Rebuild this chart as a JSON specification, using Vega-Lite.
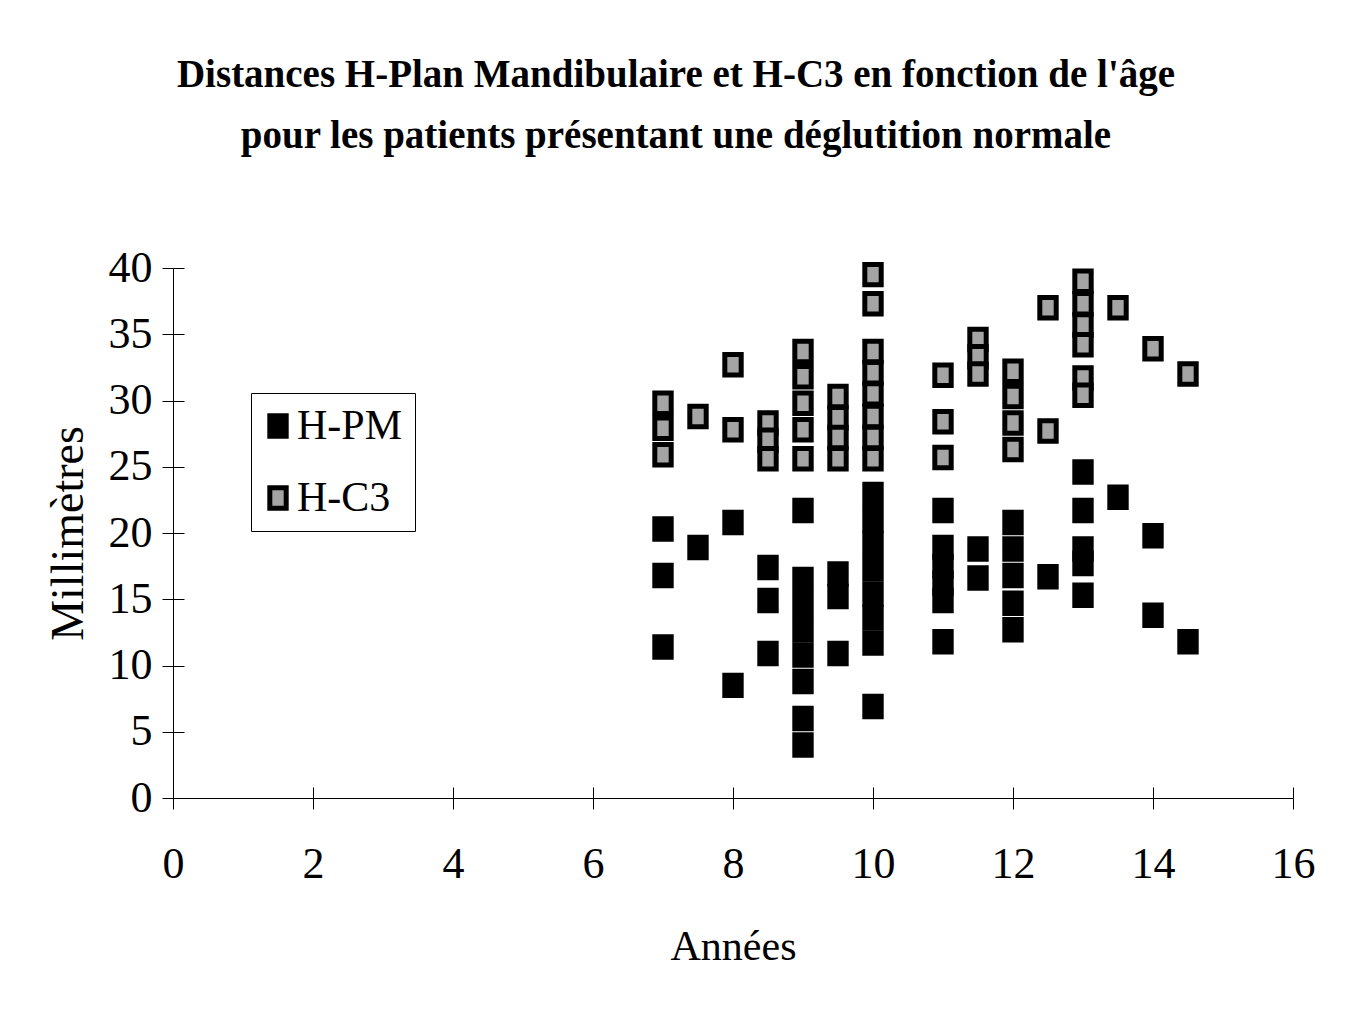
{
  "$schema": "https://vega.github.io/schema/vega-lite/v6.json",
  "autosize": "none",
  "width": 1120,
  "height": 530,
  "padding": {"left": 173, "top": 268, "right": 55, "bottom": 230},
  "background": "white",
  "title": {
    "text": ["Distances H-Plan Mandibulaire et H-C3 en fonction de l'âge", "pour les patients présentant une déglutition normale"],
    "font": "Liberation Serif",
    "fontSize": 39,
    "fontWeight": "bold",
    "color": "black",
    "lineHeight": 61,
    "anchor": "middle",
    "dx": -57,
    "offset": 90
  },
  "config": {
    "view": {"stroke": null},
    "axis": {"labelFont": "Liberation Serif", "titleFont": "Liberation Serif", "labelColor": "black", "titleColor": "black", "domainColor": "black", "tickColor": "black", "grid": false}
  },
  "data": {
    "values": [
      {"age": 7, "mm": 20.3, "serie": "H-PM"},
      {"age": 7, "mm": 16.8, "serie": "H-PM"},
      {"age": 7, "mm": 11.4, "serie": "H-PM"},
      {"age": 7.5, "mm": 18.9, "serie": "H-PM"},
      {"age": 8, "mm": 20.8, "serie": "H-PM"},
      {"age": 8, "mm": 8.5, "serie": "H-PM"},
      {"age": 8.5, "mm": 17.4, "serie": "H-PM"},
      {"age": 8.5, "mm": 14.9, "serie": "H-PM"},
      {"age": 8.5, "mm": 10.9, "serie": "H-PM"},
      {"age": 9, "mm": 21.7, "serie": "H-PM"},
      {"age": 9, "mm": 16.5, "serie": "H-PM"},
      {"age": 9, "mm": 14.6, "serie": "H-PM"},
      {"age": 9, "mm": 12.7, "serie": "H-PM"},
      {"age": 9, "mm": 10.8, "serie": "H-PM"},
      {"age": 9, "mm": 8.8, "serie": "H-PM"},
      {"age": 9, "mm": 6.0, "serie": "H-PM"},
      {"age": 9, "mm": 4.0, "serie": "H-PM"},
      {"age": 9.5, "mm": 16.9, "serie": "H-PM"},
      {"age": 9.5, "mm": 15.2, "serie": "H-PM"},
      {"age": 9.5, "mm": 10.9, "serie": "H-PM"},
      {"age": 10, "mm": 22.9, "serie": "H-PM"},
      {"age": 10, "mm": 21.0, "serie": "H-PM"},
      {"age": 10, "mm": 19.2, "serie": "H-PM"},
      {"age": 10, "mm": 17.3, "serie": "H-PM"},
      {"age": 10, "mm": 15.4, "serie": "H-PM"},
      {"age": 10, "mm": 13.6, "serie": "H-PM"},
      {"age": 10, "mm": 11.7, "serie": "H-PM"},
      {"age": 10, "mm": 6.9, "serie": "H-PM"},
      {"age": 11, "mm": 21.7, "serie": "H-PM"},
      {"age": 11, "mm": 18.9, "serie": "H-PM"},
      {"age": 11, "mm": 17.5, "serie": "H-PM"},
      {"age": 11, "mm": 16.2, "serie": "H-PM"},
      {"age": 11, "mm": 14.9, "serie": "H-PM"},
      {"age": 11, "mm": 11.8, "serie": "H-PM"},
      {"age": 11.5, "mm": 18.8, "serie": "H-PM"},
      {"age": 11.5, "mm": 16.6, "serie": "H-PM"},
      {"age": 12, "mm": 20.8, "serie": "H-PM"},
      {"age": 12, "mm": 18.8, "serie": "H-PM"},
      {"age": 12, "mm": 16.8, "serie": "H-PM"},
      {"age": 12, "mm": 14.7, "serie": "H-PM"},
      {"age": 12, "mm": 12.7, "serie": "H-PM"},
      {"age": 12.5, "mm": 16.7, "serie": "H-PM"},
      {"age": 13, "mm": 24.6, "serie": "H-PM"},
      {"age": 13, "mm": 21.7, "serie": "H-PM"},
      {"age": 13, "mm": 18.8, "serie": "H-PM"},
      {"age": 13, "mm": 17.7, "serie": "H-PM"},
      {"age": 13, "mm": 15.3, "serie": "H-PM"},
      {"age": 13.5, "mm": 22.7, "serie": "H-PM"},
      {"age": 14, "mm": 19.8, "serie": "H-PM"},
      {"age": 14, "mm": 13.8, "serie": "H-PM"},
      {"age": 14.5, "mm": 11.8, "serie": "H-PM"},
      {"age": 7, "mm": 29.8, "serie": "H-C3"},
      {"age": 7, "mm": 27.9, "serie": "H-C3"},
      {"age": 7, "mm": 25.9, "serie": "H-C3"},
      {"age": 7.5, "mm": 28.8, "serie": "H-C3"},
      {"age": 8, "mm": 32.7, "serie": "H-C3"},
      {"age": 8, "mm": 27.8, "serie": "H-C3"},
      {"age": 8.5, "mm": 28.3, "serie": "H-C3"},
      {"age": 8.5, "mm": 27.0, "serie": "H-C3"},
      {"age": 8.5, "mm": 25.6, "serie": "H-C3"},
      {"age": 9, "mm": 33.7, "serie": "H-C3"},
      {"age": 9, "mm": 31.8, "serie": "H-C3"},
      {"age": 9, "mm": 29.8, "serie": "H-C3"},
      {"age": 9, "mm": 27.8, "serie": "H-C3"},
      {"age": 9, "mm": 25.6, "serie": "H-C3"},
      {"age": 9.5, "mm": 30.3, "serie": "H-C3"},
      {"age": 9.5, "mm": 28.7, "serie": "H-C3"},
      {"age": 9.5, "mm": 27.2, "serie": "H-C3"},
      {"age": 9.5, "mm": 25.6, "serie": "H-C3"},
      {"age": 10, "mm": 39.5, "serie": "H-C3"},
      {"age": 10, "mm": 37.3, "serie": "H-C3"},
      {"age": 10, "mm": 33.7, "serie": "H-C3"},
      {"age": 10, "mm": 32.1, "serie": "H-C3"},
      {"age": 10, "mm": 30.5, "serie": "H-C3"},
      {"age": 10, "mm": 28.8, "serie": "H-C3"},
      {"age": 10, "mm": 27.2, "serie": "H-C3"},
      {"age": 10, "mm": 25.6, "serie": "H-C3"},
      {"age": 11, "mm": 31.9, "serie": "H-C3"},
      {"age": 11, "mm": 28.4, "serie": "H-C3"},
      {"age": 11, "mm": 25.7, "serie": "H-C3"},
      {"age": 11.5, "mm": 34.6, "serie": "H-C3"},
      {"age": 11.5, "mm": 33.3, "serie": "H-C3"},
      {"age": 11.5, "mm": 32.0, "serie": "H-C3"},
      {"age": 12, "mm": 32.2, "serie": "H-C3"},
      {"age": 12, "mm": 30.3, "serie": "H-C3"},
      {"age": 12, "mm": 28.3, "serie": "H-C3"},
      {"age": 12, "mm": 26.3, "serie": "H-C3"},
      {"age": 12.5, "mm": 37.0, "serie": "H-C3"},
      {"age": 12.5, "mm": 27.7, "serie": "H-C3"},
      {"age": 13, "mm": 39.0, "serie": "H-C3"},
      {"age": 13, "mm": 37.3, "serie": "H-C3"},
      {"age": 13, "mm": 35.7, "serie": "H-C3"},
      {"age": 13, "mm": 34.2, "serie": "H-C3"},
      {"age": 13, "mm": 31.7, "serie": "H-C3"},
      {"age": 13, "mm": 30.4, "serie": "H-C3"},
      {"age": 13.5, "mm": 37.0, "serie": "H-C3"},
      {"age": 14, "mm": 33.9, "serie": "H-C3"},
      {"age": 14.5, "mm": 32.0, "serie": "H-C3"}
    ]
  },
  "layer": [
    {
      "mark": {"type": "point", "filled": true, "shape": "M-0.8,-1H0.8V1H-0.8Z", "size": 420, "stroke": "black", "strokeWidth": 5, "opacity": 1},
      "encoding": {
        "x": {"field": "age", "type": "quantitative", "scale": {"domain": [0, 16], "nice": false, "zero": true},
          "axis": {"title": "Années", "values": [0, 2, 4, 6, 8, 10, 12, 14, 16], "labelFontSize": 44, "titleFontSize": 42, "titleFontWeight": "normal", "tickSize": 11, "labelPadding": 33, "titlePadding": 40, "domainWidth": 1, "tickWidth": 1, "labelFlush": false}},
        "y": {"field": "mm", "type": "quantitative", "scale": {"domain": [0, 40], "nice": false},
          "axis": {"title": "Millimètres", "values": [0, 5, 10, 15, 20, 25, 30, 35, 40], "labelFontSize": 44, "titleFontSize": 46, "titleFontWeight": "normal", "tickSize": 11, "labelPadding": 10, "titlePadding": 16, "domainWidth": 1, "tickWidth": 1, "labelFlush": false}},
        "fill": {"field": "serie", "type": "nominal", "sort": ["H-PM", "H-C3"],
          "scale": {"domain": ["H-PM", "H-C3"], "range": ["black", "#a4a4a4"]},
          "legend": {"title": null, "orient": "none", "legendX": 78, "legendY": 125, "strokeColor": "black", "padding": 12, "labelFont": "Liberation Serif", "labelFontSize": 42, "labelColor": "black", "labelOffset": -2, "symbolOffset": -6, "rowPadding": 30, "symbolType": "M-0.8,-1H0.8V1H-0.8Z", "symbolSize": 420, "symbolStrokeColor": "black", "symbolStrokeWidth": 5, "fillColor": "white"}}
      }
    },
    {
      "mark": {"type": "point", "opacity": 0},
      "encoding": {
        "x": {"field": "age", "type": "quantitative", "axis": {"orient": "bottom", "title": null, "labels": false, "domain": false, "values": [0, 2, 4, 6, 8, 10, 12, 14, 16], "tickSize": -11, "tickWidth": 1}},
        "y": {"field": "mm", "type": "quantitative", "axis": {"orient": "left", "title": null, "labels": false, "domain": false, "values": [0, 5, 10, 15, 20, 25, 30, 35, 40], "tickSize": -11, "tickWidth": 1}}
      }
    }
  ],
  "resolve": {"axis": {"x": "independent", "y": "independent"}}
}
